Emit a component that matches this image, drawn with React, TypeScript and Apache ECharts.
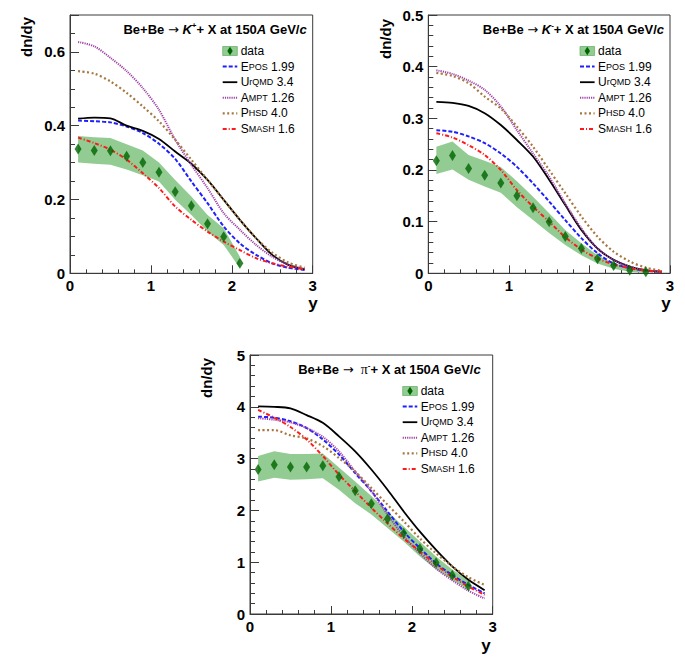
import React, { useEffect, useRef } from "react";
import * as echarts from "echarts";

const FONT = '"Liberation Sans", Arial, Helvetica, sans-serif';

// rapidity grid of model curves
const X_MODEL = [0.1, 0.3, 0.5, 0.7, 0.9, 1.1, 1.3, 1.5, 1.7, 1.9, 2.1, 2.3, 2.5, 2.7, 2.9];

// ---------- K+ ----------
const KP_X = [0.1, 0.3, 0.5, 0.7, 0.9, 1.1, 1.3, 1.5, 1.7, 1.9, 2.1];
const KP_DATA = [0.337, 0.333, 0.332, 0.317, 0.300, 0.274, 0.221, 0.183, 0.134, 0.099, 0.027];
const KP_UP = [0.372, 0.369, 0.367, 0.350, 0.333, 0.300, 0.253, 0.208, 0.158, 0.122, 0.045];
const KP_LO = [0.300, 0.297, 0.294, 0.281, 0.266, 0.249, 0.199, 0.158, 0.113, 0.077, 0.014];
const KP_EPOS = [0.414, 0.412, 0.409, 0.398, 0.380, 0.351, 0.310, 0.249, 0.190, 0.127, 0.081, 0.050, 0.027, 0.015, 0.009];
const KP_URQMD = [0.419, 0.422, 0.420, 0.400, 0.386, 0.364, 0.330, 0.297, 0.253, 0.199, 0.145, 0.095, 0.050, 0.023, 0.011];
const KP_AMPT = [0.627, 0.615, 0.584, 0.548, 0.502, 0.443, 0.362, 0.294, 0.231, 0.163, 0.118, 0.077, 0.045, 0.023, 0.011];
const KP_PHSD = [0.548, 0.541, 0.520, 0.489, 0.452, 0.412, 0.362, 0.308, 0.253, 0.199, 0.145, 0.095, 0.056, 0.029, 0.015];
const KP_SMASH = [0.368, 0.353, 0.335, 0.308, 0.271, 0.231, 0.181, 0.145, 0.113, 0.086, 0.063, 0.041, 0.027, 0.018, 0.011];

// ---------- K- ----------
const KM_X = [0.1, 0.3, 0.5, 0.7, 0.9, 1.1, 1.3, 1.5, 1.7, 1.9, 2.1, 2.3, 2.5, 2.7];
const KM_DATA = [0.218, 0.228, 0.203, 0.190, 0.175, 0.150, 0.127, 0.100, 0.071, 0.048, 0.028, 0.015, 0.006, 0.003];
const KM_UP = [0.245, 0.255, 0.229, 0.218, 0.206, 0.178, 0.148, 0.116, 0.084, 0.058, 0.035, 0.020, 0.011, 0.005];
const KM_LO = [0.192, 0.201, 0.181, 0.168, 0.156, 0.128, 0.103, 0.078, 0.055, 0.035, 0.019, 0.009, 0.003, 0.000];
const KM_EPOS = [0.277, 0.274, 0.265, 0.252, 0.232, 0.206, 0.174, 0.139, 0.103, 0.068, 0.039, 0.019, 0.010, 0.005, 0.003];
const KM_URQMD = [0.332, 0.330, 0.324, 0.310, 0.287, 0.258, 0.226, 0.181, 0.132, 0.084, 0.048, 0.026, 0.013, 0.006, 0.003];
const KM_AMPT = [0.393, 0.386, 0.373, 0.355, 0.323, 0.277, 0.232, 0.187, 0.135, 0.087, 0.048, 0.026, 0.013, 0.006, 0.003];
const KM_PHSD = [0.388, 0.382, 0.368, 0.342, 0.319, 0.284, 0.245, 0.200, 0.155, 0.110, 0.071, 0.042, 0.023, 0.011, 0.005];
const KM_SMASH = [0.271, 0.263, 0.248, 0.229, 0.200, 0.161, 0.129, 0.100, 0.070, 0.046, 0.029, 0.017, 0.010, 0.005, 0.003];

// ---------- pi- ----------
const PI_X = [0.1, 0.3, 0.5, 0.7, 0.9, 1.1, 1.3, 1.5, 1.7, 1.9, 2.1, 2.3, 2.5, 2.7];
const PI_DATA = [2.79, 2.88, 2.84, 2.84, 2.86, 2.65, 2.38, 2.13, 1.84, 1.56, 1.26, 0.99, 0.75, 0.54];
const PI_UP = [3.05, 3.14, 3.09, 3.09, 3.10, 2.83, 2.56, 2.28, 1.98, 1.69, 1.40, 1.11, 0.86, 0.65];
const PI_LO = [2.56, 2.63, 2.59, 2.60, 2.62, 2.40, 2.14, 1.92, 1.66, 1.40, 1.11, 0.86, 0.66, 0.46];
const PI_EPOS = [3.81, 3.79, 3.72, 3.59, 3.37, 3.08, 2.72, 2.37, 1.98, 1.59, 1.27, 0.98, 0.75, 0.56, 0.40];
const PI_URQMD = [4.01, 4.00, 3.97, 3.84, 3.69, 3.43, 3.14, 2.79, 2.40, 1.98, 1.59, 1.24, 0.92, 0.66, 0.46];
const PI_AMPT = [3.78, 3.75, 3.70, 3.59, 3.42, 3.14, 2.75, 2.37, 1.92, 1.50, 1.17, 0.88, 0.65, 0.45, 0.30];
const PI_PHSD = [3.55, 3.55, 3.45, 3.39, 3.24, 3.01, 2.75, 2.43, 2.11, 1.79, 1.46, 1.17, 0.92, 0.71, 0.56];
const PI_SMASH = [3.94, 3.79, 3.61, 3.37, 3.05, 2.69, 2.37, 2.05, 1.75, 1.46, 1.21, 0.95, 0.72, 0.53, 0.37];

const MODELS = [
  { name: "EPOS 1.99", label: "{n|E}{s|POS}{n| 1.99}", color: "#1f1fff", width: 2, dash: [4, 2] },
  { name: "UrQMD 3.4", label: "{n|U}{s|rQMD}{n| 3.4}", color: "#000000", width: 1.8, dash: null },
  { name: "AMPT 1.26", label: "{n|A}{s|MPT}{n| 1.26}", color: "#a043a8", width: 2, dash: [1.2, 1] },
  { name: "PHSD 4.0", label: "{n|P}{s|HSD}{n| 4.0}", color: "#a8773f", width: 2.2, dash: [2, 2.5] },
  { name: "SMASH 1.6", label: "{n|S}{s|MASH}{n| 1.6}", color: "#ff1a1a", width: 2, dash: [4, 2, 1, 2] },
];

const BAND = "#92cc92";
const DIAMOND = "#006400";

const PANELS = [
  {
    grid: { left: 70, top: 15, width: 242.7, height: 258.3 },
    yMax: 0.7, yInt: 0.2, yMinor: 4, showMax: false,
    xs: KP_X, data: KP_DATA, up: KP_UP, lo: KP_LO,
    models: [KP_EPOS, KP_URQMD, KP_AMPT, KP_PHSD, KP_SMASH],
    title: "{b|Be+Be }{a|→}{b| }{i|K}{s|+}{b|+ X at 150}{i|A}{b| GeV/}{i|c}",
    titleDx: 6, yName: [26, 17], xName: [313, 303],
  },
  {
    grid: { left: 428.3, top: 15, width: 241.7, height: 258.3 },
    yMax: 0.5, yInt: 0.1, yMinor: 5, showMax: true,
    xs: KM_X, data: KM_DATA, up: KM_UP, lo: KM_LO,
    models: [KM_EPOS, KM_URQMD, KM_AMPT, KM_PHSD, KM_SMASH],
    title: "{b|Be+Be }{a|→}{b| }{i|K}{s|-}{b|+ X at 150}{i|A}{b| GeV/}{i|c}",
    titleDx: 6, yName: [385, 19], xName: [666, 303],
  },
  {
    grid: { left: 250, top: 355, width: 242.7, height: 259 },
    yMax: 5, yInt: 1, yMinor: 5, showMax: true,
    xs: PI_X, data: PI_DATA, up: PI_UP, lo: PI_LO,
    models: [PI_EPOS, PI_URQMD, PI_AMPT, PI_PHSD, PI_SMASH],
    title: "{b|Be+Be }{a|→}{b|  }{p|π}{s|-}{b|+ X at 150}{i|A}{b| GeV/}{i|c}",
    titleDx: 12, yName: [206, 358], xName: [486, 645],
  },
];

const AXIS_COLOR = "#3a3a3a";

function buildOption() {
  const grid: any[] = [];
  const xAxis: any[] = [];
  const yAxis: any[] = [];
  const series: any[] = [];
  const graphic: any[] = [];

  const labelStyle = { color: "#000", fontFamily: FONT, fontWeight: "bold", fontSize: 15 };

  PANELS.forEach((p, i) => {
    grid.push({
      ...p.grid,
      containLabel: false,
      outerBoundsMode: "none",
      show: true,
      borderColor: AXIS_COLOR,
      borderWidth: 1,
      backgroundColor: "transparent",
    });
    xAxis.push({
      type: "value", gridIndex: i, min: 0, max: 3, interval: 1,
      axisLine: { show: true, onZero: false, lineStyle: { color: AXIS_COLOR, width: 1 } },
      axisTick: { show: true, inside: true, length: 8, lineStyle: { color: AXIS_COLOR } },
      minorTick: { show: true, splitNumber: 5, length: 4, lineStyle: { color: AXIS_COLOR } },
      axisLabel: { ...labelStyle, margin: 5 },
      splitLine: { show: false },
      minorSplitLine: { show: false },
    });
    yAxis.push({
      type: "value", gridIndex: i, min: 0, max: p.yMax, interval: p.yInt,
      axisLine: { show: true, onZero: false, lineStyle: { color: AXIS_COLOR, width: 1 } },
      axisTick: { show: true, inside: true, length: 9, lineStyle: { color: AXIS_COLOR } },
      minorTick: { show: true, splitNumber: p.yMinor, length: 5, lineStyle: { color: AXIS_COLOR } },
      axisLabel: { ...labelStyle, margin: 5, showMaxLabel: p.showMax },
      splitLine: { show: false },
      minorSplitLine: { show: false },
    });

    // systematic band
    series.push({
      type: "custom", xAxisIndex: i, yAxisIndex: i, silent: true, z: 1,
      data: [[0, 0]],
      renderItem: (_params: any, api: any) => {
        const pts: number[][] = [];
        p.xs.forEach((x, k) => pts.push(api.coord([x, p.up[k]])));
        for (let k = p.xs.length - 1; k >= 0; k--) pts.push(api.coord([p.xs[k], p.lo[k]]));
        return { type: "polygon", shape: { points: pts }, style: { fill: BAND, stroke: null } };
      },
    });

    MODELS.forEach((m, j) => {
      series.push({
        type: "line", name: m.name, xAxisIndex: i, yAxisIndex: i, z: 3,
        showSymbol: false, symbol: "none", smooth: 0.3, silent: true,
        data: X_MODEL.map((x, k) => [x, p.models[j][k]]),
        lineStyle: { color: m.color, width: m.width, type: m.dash ? m.dash : "solid" },
      });
    });

    series.push({
      type: "scatter", name: "data", xAxisIndex: i, yAxisIndex: i, z: 4, silent: true,
      symbol: "diamond", symbolSize: [7, 11],
      itemStyle: { color: DIAMOND },
      data: p.xs.map((x, k) => [x, p.data[k]]),
    });

    // title
    const R = p.grid.left + p.grid.width;
    const T = p.grid.top;
    graphic.push({
      type: "text", x: R - p.titleDx, y: T + 14, z: 10,
      style: {
        text: p.title,
        align: "right", textAlign: "right", verticalAlign: "middle", textVerticalAlign: "middle",
        fill: "#000",
        rich: {
          b: { fontFamily: FONT, fontWeight: "bold", fontSize: 13, fill: "#000", lineHeight: 16 },
          a: { fontFamily: '"DejaVu Sans", sans-serif', fontSize: 13, fill: "#000", lineHeight: 16 },
          i: { fontFamily: FONT, fontWeight: "bold", fontStyle: "italic", fontSize: 13, fill: "#000", lineHeight: 16 },
          p: { fontFamily: '"Liberation Serif", "DejaVu Serif", serif', fontSize: 14, fill: "#000", lineHeight: 16 },
          s: { fontFamily: FONT, fontWeight: "bold", fontSize: 8, fill: "#000", verticalAlign: "top", lineHeight: 16 },
        },
      },
    });

    // legend
    const lx = R - 90;
    const tx = R - 72;
    const y0 = T + 36;
    const step = 15.6;
    graphic.push({
      type: "rect", z: 10,
      shape: { x: lx, y: y0 - 4.5, width: 14.6, height: 9 },
      style: { fill: BAND, stroke: "#6fb36f", lineWidth: 0.8 },
    });
    const cx = lx + 7.3;
    graphic.push({
      type: "polygon", z: 11,
      shape: { points: [[cx, y0 - 4.2], [cx + 2.7, y0], [cx, y0 + 4.2], [cx - 2.7, y0]] },
      style: { fill: DIAMOND },
    });
    graphic.push({
      type: "text", x: tx, y: y0, z: 10,
      style: {
        text: "data", fontFamily: FONT, fontSize: 12, fill: "#000",
        align: "left", textAlign: "left", verticalAlign: "middle", textVerticalAlign: "middle",
      },
    });
    MODELS.forEach((m, j) => {
      const yy = y0 + step * (j + 1);
      graphic.push({
        type: "line", z: 10,
        shape: { x1: lx, y1: yy, x2: lx + 14.6, y2: yy },
        style: { stroke: m.color, lineWidth: m.width, lineDash: m.dash || null },
      });
      graphic.push({
        type: "text", x: tx, y: yy, z: 10,
        style: {
          text: m.label,
          align: "left", textAlign: "left", verticalAlign: "middle", textVerticalAlign: "middle",
          fill: "#000",
          rich: {
            n: { fontFamily: FONT, fontSize: 12, fill: "#000" },
            s: { fontFamily: FONT, fontSize: 9, fill: "#000" },
          },
        },
      });
    });

    // axis names
    graphic.push({
      type: "text", x: p.yName[0], y: p.yName[1], rotation: Math.PI / 2, z: 10,
      style: {
        text: "dn/dy", fontFamily: FONT, fontWeight: "bold", fontSize: 15, fill: "#000",
        align: "right", textAlign: "right", verticalAlign: "middle", textVerticalAlign: "middle",
      },
    });
    graphic.push({
      type: "text", x: p.xName[0], y: p.xName[1], z: 10,
      style: {
        text: "y", fontFamily: FONT, fontWeight: "bold", fontSize: 17, fill: "#000",
        align: "center", textAlign: "center", verticalAlign: "middle", textVerticalAlign: "middle",
      },
    });
  });

  return {
    animation: false,
    backgroundColor: "#ffffff",
    grid, xAxis, yAxis, series, graphic,
  };
}

export default function App() {
  const ref = useRef<HTMLDivElement>(null);
  useEffect(() => {
    if (!ref.current) return;
    const chart = echarts.init(ref.current, null, { renderer: "svg" });
    chart.setOption(buildOption() as any);
    return () => chart.dispose();
  }, []);
  return (
    <div
      ref={ref}
      style={{ position: "absolute", left: 0, top: 0, width: 685, height: 662 }}
    />
  );
}
